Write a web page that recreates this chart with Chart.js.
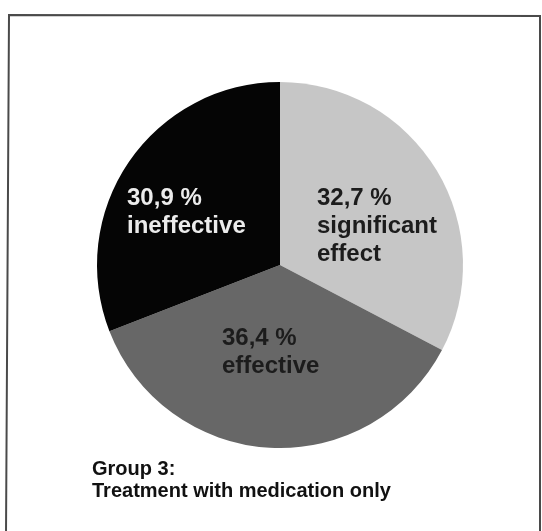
<!DOCTYPE html>
<html>
<head>
<meta charset="utf-8">
<title>Group 3: Treatment with medication only</title>
<script src="https://cdn.jsdelivr.net/npm/chart.js@4/dist/chart.umd.min.js"></script>
<style>
  html, body { margin: 0; padding: 0; background: #ffffff; }
  #wrap { position: relative; width: 542px; height: 531px; }
</style>
</head>
<body>
<div id="wrap"><canvas id="pie"></canvas></div>
<script>
// Outcome categories and their shares (percent)
const categories = ['significant effect', 'effective', 'ineffective'];
const shares = [32.7, 36.4, 30.9];
const captionLines = ['Group 3:', 'Treatment with medication only'];

// Slice fills and label colours
const sliceColors = ['#c6c6c6', '#676767', '#050505'];
const labelColors = ['#1c1c1c', '#1c1c1c', '#ececec'];
// Top-left corner of each text block, in units of the pie radius from its centre
const labelAnchor = [[0.202, -0.421], [-0.317, 0.344], [-0.836, -0.421]];

const fmtPct = v => v.toFixed(1).replace('.', ',') + ' %';

// Thin frame around the figure
const framePlugin = {
  id: 'frame',
  beforeDraw(chart) {
    const c = chart.ctx;
    c.save();
    c.fillStyle = '#ffffff';
    c.fillRect(0, 0, chart.width, chart.height);
    c.strokeStyle = '#4a4a4a';
    c.lineWidth = 2;
    c.beginPath();
    c.moveTo(6, chart.height + 4);
    c.lineTo(9, 15);
    c.lineTo(540, 16);
    c.lineTo(540, chart.height + 4);
    c.stroke();
    c.restore();
  }
};

// Percent and category text inside each slice, plus the caption underneath
const sliceTextPlugin = {
  id: 'sliceText',
  afterDatasetsDraw(chart) {
    const c = chart.ctx;
    const arc0 = chart.getDatasetMeta(0).data[0];
    const cx = arc0.x, cy = arc0.y, r = arc0.outerRadius;
    c.save();
    c.font = 'bold 24px "Liberation Sans", Arial, sans-serif';
    c.textAlign = 'left';
    c.textBaseline = 'alphabetic';
    shares.forEach((v, i) => {
      const lines = [fmtPct(v)].concat(categories[i].split(' '));
      const x = cx + labelAnchor[i][0] * r;
      const y = cy + labelAnchor[i][1] * r + 17;
      c.fillStyle = labelColors[i];
      lines.forEach((t, k) => c.fillText(t, x, y + k * 28));
    });
    c.fillStyle = '#111111';
    c.font = 'bold 20px "Liberation Sans", Arial, sans-serif';
    captionLines.forEach((t, k) => c.fillText(t, 92, 475 + k * 22));
    c.restore();
  }
};

new Chart(document.getElementById('pie'), {
  type: 'pie',
  data: {
    labels: categories,
    datasets: [{
      data: shares,
      backgroundColor: sliceColors,
      borderWidth: 0,
      hoverOffset: 0
    }]
  },
  options: {
    responsive: true,
    maintainAspectRatio: false,
    animation: false,
    events: [],
    layout: { padding: { left: 97, right: 79, top: 82, bottom: 83 } },
    plugins: {
      legend: { display: false },
      title: { display: false },
      tooltip: { enabled: false }
    }
  },
  plugins: [framePlugin, sliceTextPlugin]
});
</script>
</body>
</html>
